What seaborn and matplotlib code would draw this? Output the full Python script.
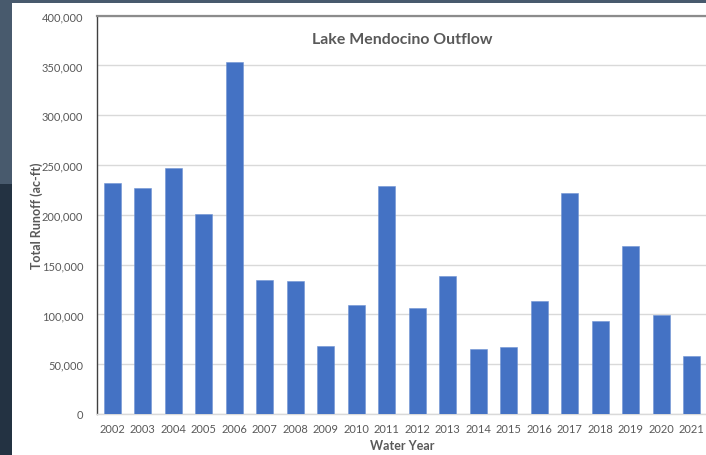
import matplotlib
matplotlib.use("Agg")
import matplotlib.pyplot as plt
import matplotlib.patches as mpatches
from matplotlib.ticker import FuncFormatter, MultipleLocator
import seaborn as sns
import pandas as pd

years = ["2002", "2003", "2004", "2005", "2006", "2007", "2008", "2009", "2010", "2011",
         "2012", "2013", "2014", "2015", "2016", "2017", "2018", "2019", "2020", "2021"]
runoff = [231500, 226800, 247000, 200600, 353600, 135000, 133300, 68000, 109500, 228800,
          106500, 138300, 65300, 67300, 113800, 222000, 93100, 168800, 99800, 58000]
title = "Lake Mendocino Outflow"
xlabel = "Water Year"
ylabel = "Total Runoff (ac-ft)"

df = pd.DataFrame({"year": years, "runoff": runoff})

sns.set_theme(style="white")
plt.rcParams["font.family"] = ["Lato", "DejaVu Sans"]

W, H = 706, 456
fig = plt.figure(figsize=(W / 100, H / 100), dpi=100)
fig.patch.set_facecolor("white")

# screenshot frame background
fig.patches.append(mpatches.Rectangle((0, 1 - 4 / H), 1, 4 / H, transform=fig.transFigure,
                                      facecolor="#485a6d", edgecolor="none", zorder=-5))
fig.patches.append(mpatches.Rectangle((0, 1 - 185 / H), 12 / W, 185 / H, transform=fig.transFigure,
                                      facecolor="#485a6d", edgecolor="none", zorder=-5))
fig.patches.append(mpatches.Rectangle((0, 0), 12 / W, 1 - 185 / H, transform=fig.transFigure,
                                      facecolor="#233242", edgecolor="none", zorder=-5))

left, right = 97 / W, 706 / W
bottom, top = 1 - 415 / H, 1 - 16.7 / H
ax = fig.add_axes([left, bottom, right - left, top - bottom])
ax.set_facecolor("none")

sns.barplot(data=df, x="year", y="runoff", color="#4472C4", width=0.55, saturation=1,
            ax=ax, zorder=3, edgecolor="#6f93d3", linewidth=0.4)

ax.set_ylim(0, 400000)
ax.set_xlim(-0.5, 19.47)
ax.yaxis.set_major_locator(MultipleLocator(50000))
ax.yaxis.set_major_formatter(FuncFormatter(lambda v, p: f"{int(v):,}"))
ax.grid(axis="y", color="#d9d9d9", linewidth=1, zorder=0)
ax.set_axisbelow(True)

ax.spines["right"].set_visible(False)
ax.spines["left"].set_color("#404040")
ax.spines["left"].set_linewidth(1.0)
ax.spines["top"].set_color("#8c8c8c")
ax.spines["top"].set_linewidth(1.6)
ax.spines["bottom"].set_color("#d9d9d9")
ax.spines["bottom"].set_linewidth(1.0)

ax.tick_params(axis="both", length=0, labelsize=8, labelcolor="#595959")
ax.tick_params(axis="y", pad=10)
ax.tick_params(axis="x", pad=6.5)

ax.set_xlabel(xlabel, fontsize=9, fontweight="bold", color="#595959")
ax.set_ylabel(ylabel, fontsize=9, fontweight="bold", color="#595959")
# place axis labels at the reference pixel positions
ax_w = (right - left) * W
ax_h = (top - bottom) * H
ax.yaxis.set_label_coords((37 - 97) / ax_w, 0.5)
ax.yaxis.label.set_va("center")
ax.xaxis.set_label_coords((402 - 97) / ax_w, -(446 - 415) / ax_h)
ax.xaxis.label.set_va("center")

fig.text(402 / W, 1 - 40 / H, title, ha="center", va="center", fontsize=11.4,
         fontweight="bold", color="#595959")

fig.savefig("out.png", dpi=100)
